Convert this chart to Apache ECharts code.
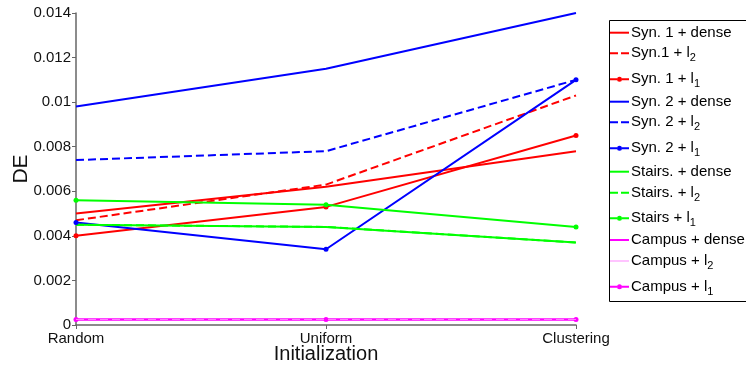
<!DOCTYPE html>
<html>
<head>
<meta charset="utf-8">
<script src="https://cdn.jsdelivr.net/npm/echarts@6/dist/echarts.min.js"></script>
<style>
  html, body { margin: 0; padding: 0; background: #fff; }
  #chart { width: 746px; height: 367px; }
</style>
</head>
<body>
<div id="chart"></div>
<script>
// Initialization strategies on the x axis
const categories = ['Random', 'Uniform', 'Clustering'];

// DE per initialization, one array per method
const syn1Dense   = [0.0050, 0.0062, 0.0078];
const syn1L2      = [0.0047, 0.0063, 0.0103];
const syn1L1      = [0.0040, 0.0053, 0.0085];
const syn2Dense   = [0.0098, 0.0115, 0.0140];
const syn2L2      = [0.0074, 0.0078, 0.0110];
const syn2L1      = [0.0046, 0.0034, 0.0110];
const stairsDense = [0.0045, 0.0044, 0.0037];
const stairsL2    = [0.0045, 0.0044, 0.0037];
const stairsL1    = [0.0056, 0.0054, 0.0044];
const campusDense = [0.00025, 0.00025, 0.00025];
const campusL2    = [0.00025, 0.00025, 0.00025];
const campusL1    = [0.00025, 0.00025, 0.00025];

// Legend labels (trailing digit after "l" is drawn as a subscript)
const seriesNames = [
  'Syn. 1 + dense', 'Syn.1 + l2', 'Syn. 1 + l1',
  'Syn. 2 + dense', 'Syn. 2 + l2', 'Syn. 2 + l1',
  'Stairs. + dense', 'Stairs. + l2', 'Stairs + l1',
  'Campus + dense', 'Campus + l2', 'Campus + l1'
];
const seriesValues = [
  syn1Dense, syn1L2, syn1L1,
  syn2Dense, syn2L2, syn2L1,
  stairsDense, stairsL2, stairsL1,
  campusDense, campusL2, campusL1
];

// Y axis range
const yMin = 0, yMax = 0.014, yStep = 0.002;

const FONT = '"Liberation Sans", Arial, Helvetica, sans-serif';
const colors = ['#ff0000', '#ff0000', '#ff0000',
                '#0000ff', '#0000ff', '#0000ff',
                '#00ff00', '#00ff00', '#00ff00',
                '#ff00ff', '#ff88ff', '#ff00ff'];
// kind: 0 = solid, 1 = dashed, 2 = solid with dot markers
const kinds = [0, 1, 2, 0, 1, 2, 0, 1, 2, 0, 1, 2];

// Legend glyphs: short solid line, two dashes, line with a dot
const ICON_SOLID = 'path://M0,0h19v2h-19z';
const ICON_THIN = 'path://M0,0h19v1h-19z';
const ICON_DASH = 'path://M0,0h8v2h-8z M11,0h8v2h-8z';
const ICON_DOT = 'path://M0,1.5h7v2h-7z M12,1.5h7v2h-7z M7,2.5a2.5,2.5 0 1,1 5,0a2.5,2.5 0 1,1 -5,0z';

const series = seriesNames.map((name, i) => {
  const kind = kinds[i];
  const isCampusL2 = i === 10;
  return {
    name: name,
    type: 'line',
    data: seriesValues[i],
    color: colors[i],
    symbol: kind === 2 ? 'circle' : 'none',
    symbolSize: 5,
    showSymbol: kind === 2,
    lineStyle: {
      color: colors[i],
      width: isCampusL2 ? 1 : 2,
      type: kind === 1 ? [8, 4] : 'solid'
    },
    itemStyle: { color: colors[i] },
    z: isCampusL2 ? 3 : 2,
    emphasis: { disabled: true },
    animation: false
  };
});

// Legend row centres inside the framed box
const legendRowY = [32.7, 53.3, 79.3, 101.7, 122.3, 148.3, 171.7, 192.7, 218.3, 240, 261, 286.7];
const legends = seriesNames.map((name, i) => {
  const kind = kinds[i];
  let icon = kind === 0 ? ICON_SOLID : kind === 1 ? ICON_DASH : ICON_DOT;
  let h = kind === 2 ? 5 : 2;
  if (i === 10) { icon = ICON_THIN; h = 1; }
  return {
    data: [{ name: name, icon: icon }],
    orient: 'vertical',
    left: 610,
    top: legendRowY[i] - 10.5,
    padding: 0,
    itemGap: 0,
    itemWidth: 19,
    itemHeight: h,
    selectedMode: false,
    z: 5,
    formatter: n => n.replace(/l([12])$/, 'l{sub|$1}'),
    textStyle: {
      fontFamily: FONT,
      fontSize: 15,
      lineHeight: 21,
      color: '#000',
      padding: [0, 0, 0, -3],
      rich: {
        sub: { fontFamily: FONT, fontSize: 11, lineHeight: 11, verticalAlign: 'bottom', color: '#000' }
      }
    }
  };
});

const chart = echarts.init(document.getElementById('chart'), null, { renderer: 'canvas' });
chart.setOption({
  animation: false,
  backgroundColor: '#fff',
  grid: { left: 76, right: 170, top: 13, bottom: 42, containLabel: false, outerBoundsMode: 'none' },
  legend: legends,
  graphic: [{
    type: 'rect',
    z: 0,
    shape: { x: 609.5, y: 20.5, width: 200, height: 281 },
    style: { fill: '#fff', stroke: '#000', lineWidth: 1 }
  }],
  xAxis: {
    type: 'category',
    data: categories,
    boundaryGap: false,
    name: 'Initialization',
    nameLocation: 'middle',
    nameGap: 19,
    nameMoveOverlap: false,
    nameTextStyle: { fontFamily: FONT, fontSize: 20, color: '#111' },
    axisLine: { lineStyle: { color: '#666', width: 1.5 } },
    axisTick: { show: true, length: 4, inside: false, lineStyle: { color: '#666' } },
    axisLabel: { fontFamily: FONT, fontSize: 15, color: '#111', margin: 6, interval: 0 },
    splitLine: { show: false }
  },
  yAxis: {
    type: 'value',
    min: yMin,
    max: yMax,
    interval: yStep,
    name: 'DE',
    nameLocation: 'middle',
    nameGap: 44,
    nameMoveOverlap: false,
    nameRotate: 90,
    nameTextStyle: { fontFamily: FONT, fontSize: 21, color: '#111' },
    axisLine: { show: true, lineStyle: { color: '#666', width: 1.5 } },
    axisTick: { show: true, length: 4, inside: false, lineStyle: { color: '#666' } },
    axisLabel: {
      fontFamily: FONT, fontSize: 15, color: '#111', margin: 5,
      formatter: v => String(+v.toFixed(3))
    },
    splitLine: { show: false }
  },
  series: series
});
</script>
</body>
</html>
